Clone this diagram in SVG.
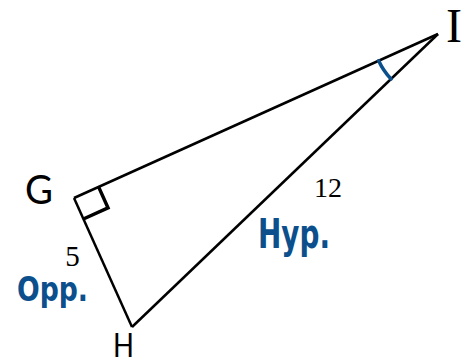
<svg xmlns="http://www.w3.org/2000/svg" width="474" height="364" viewBox="0 0 474 364">
<style>
.edge{fill:none;stroke:#000;stroke-width:2.5;stroke-linejoin:miter}
.lbl{font-family:Lato,"Liberation Sans",Arial,sans-serif;font-weight:normal;fill:#000}
.num{font-family:"Liberation Serif","Times New Roman",serif;fill:#000}
.blue{font-family:"DejaVu Sans","Liberation Sans",sans-serif;font-weight:bold;fill:#0b4f8c}
</style>
<rect width="474" height="364" fill="#fff"/>
<g id="connectors">
<path class="edge" d="M74,198 L438,34"/>
<path class="edge" d="M438,34 L132,327"/>
<path class="edge" d="M132,327 L74,198"/>
<path d="M98.6,186.9 L108,207.9 L83.4,219" fill="none" stroke="#000" stroke-width="3.5"/>
<path d="M378.7,60.7 A65,65 0 0 0 391.1,79" fill="none" stroke="#0b4f8c" stroke-width="3.5" stroke-linecap="round"/>
</g>
<g id="G"><text class="lbl" x="39" y="204" font-size="40" text-anchor="middle" textLength="28" lengthAdjust="spacingAndGlyphs">G</text></g>
<g id="H"><text class="lbl" x="123.5" y="357" font-size="33" text-anchor="middle" textLength="21" lengthAdjust="spacingAndGlyphs">H</text></g>
<g id="I"><text class="num" x="454" y="42" font-size="48" text-anchor="middle">I</text></g>
<g id="side-labels">
<text class="num" x="72.5" y="266" font-size="29" text-anchor="middle">5</text>
<text class="num" x="314" y="197" font-size="28">12</text>
<text class="blue" x="17" y="301" font-size="33" textLength="71" lengthAdjust="spacingAndGlyphs">Opp.</text>
<text class="blue" x="258" y="248" font-size="41" textLength="72" lengthAdjust="spacingAndGlyphs">Hyp.</text>
</g>
</svg>
